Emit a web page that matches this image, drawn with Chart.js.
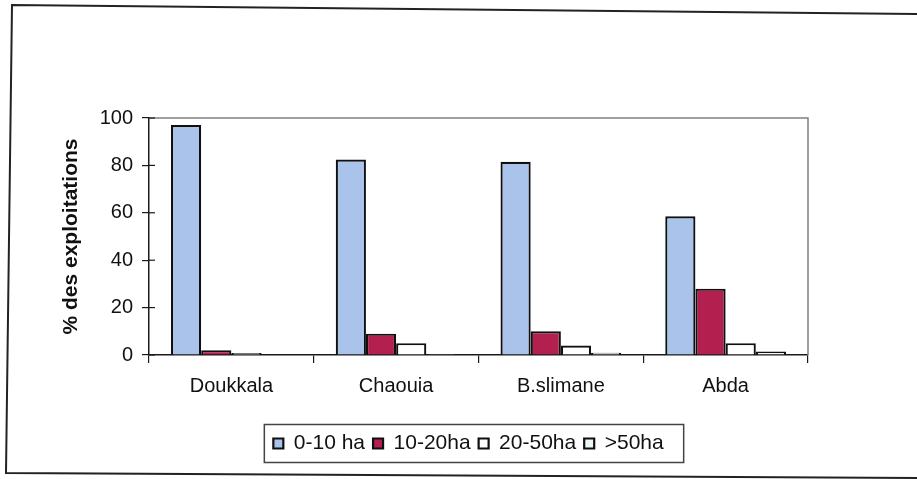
<!DOCTYPE html>
<html>
<head>
<meta charset="utf-8">
<script src="https://cdn.jsdelivr.net/npm/chart.js@4.4.1/dist/chart.umd.min.js"></script>
<style>
  html, body { margin: 0; padding: 0; background: #ffffff; }
  #wrap { width: 917px; height: 479px; }
</style>
</head>
<body>
<div id="wrap"><canvas id="c" width="917" height="479"></canvas></div>
<script>
const categories = ['Doukkala', 'Chaouia', 'B.slimane', 'Abda'];
const seriesNames = ['0-10 ha', '10-20ha', '20-50ha', '>50ha'];
const s0to10 = [97, 82.5, 81.5, 58.5];
const s10to20 = [2, 9, 10, 28];
const s20to50 = [0.8, 5, 4, 5];
const sOver50 = [0.2, 0.4, 1, 1.5];
const yTicks = [0, 20, 40, 60, 80, 100];
const yTitle = '% des exploitations';

const FONT = '"Liberation Sans", Arial, sans-serif';
const TXT = '#111111';

const frame = {
  id: 'frame',
  afterLayout(chart) {
    const lg = chart.legend;
    if (lg) { lg.left -= 10; lg.right -= 10; }
  },
  beforeDatasetsDraw(chart) {
    const {ctx, chartArea: a} = chart;
    ctx.save();
    ctx.strokeStyle = '#808080';
    ctx.lineWidth = 1.5;
    ctx.beginPath();
    ctx.moveTo(a.left, a.top);
    ctx.lineTo(a.right, a.top);
    ctx.lineTo(a.right, a.bottom);
    ctx.stroke();
    ctx.restore();
  },
  afterDraw(chart) {
    const {ctx, chartArea: a} = chart;
    const y = chart.scales.y;
    ctx.save();
    ctx.strokeStyle = '#1a1a1a';
    ctx.lineWidth = 1.2;
    y.ticks.forEach(t => {
      const py = y.getPixelForValue(t.value);
      ctx.beginPath();
      ctx.moveTo(a.left, py);
      ctx.lineTo(a.left + 6, py);
      ctx.stroke();
    });
    const hb = chart.legend.legendHitBoxes;
    if (hb && hb.length) {
      const first = hb[0], last = hb[hb.length - 1];
      const x0 = first.left - 9, x1 = last.left + last.width + 20;
      const y0 = first.top - 8.5, y1 = first.top + first.height + 8.5;
      ctx.strokeStyle = '#444';
      ctx.lineWidth = 1.5;
      ctx.strokeRect(x0, y0, x1 - x0, y1 - y0);
    }
    ctx.strokeStyle = '#222';
    ctx.lineWidth = 2;
    ctx.beginPath();
    ctx.moveTo(917, 14);
    ctx.lineTo(12, 5);
    ctx.lineTo(6, 473);
    ctx.lineTo(917, 478);
    ctx.stroke();
    ctx.restore();
  }
};

const mk = (label, data, bg) => ({
  label, data,
  backgroundColor: bg,
  borderColor: '#101010',
  borderWidth: 2.2,
  borderSkipped: 'start',
  categoryPercentage: 0.733,
  barPercentage: 1.0
});

new Chart(document.getElementById('c'), {
  type: 'bar',
  data: {
    labels: categories,
    datasets: [
      mk(seriesNames[0], s0to10, '#a9c3ea'),
      mk(seriesNames[1], s10to20, '#b3204f'),
      mk(seriesNames[2], s20to50, '#ffffff'),
      mk(seriesNames[3], sOver50, '#eef8f8')
    ]
  },
  options: {
    responsive: false,
    devicePixelRatio: 1,
    animation: false,
    layout: { padding: { left: 59, right: 109, top: 118, bottom: 15 } },
    plugins: {
      tooltip: { enabled: false },
      legend: {
        position: 'bottom',
        fullSize: false,
        labels: {
          font: { family: FONT, size: 21 },
          color: TXT,
          boxWidth: 10,
          boxHeight: 10,
          padding: 8
        }
      }
    },
    scales: {
      x: {
        afterFit(s) { s.height = 70; },
        grid: { display: true, drawOnChartArea: false, drawTicks: true, tickLength: 8, color: '#1a1a1a', lineWidth: 1.2, offset: true },
        border: { display: true, color: '#1a1a1a', width: 1.5 },
        ticks: { font: { family: FONT, size: 20 }, color: TXT, padding: 11, maxRotation: 0 }
      },
      y: {
        min: 0, max: 100,
        afterFit(s) { s.width = 90; },
        afterBuildTicks(s) { s.ticks = yTicks.map(v => ({ value: v })); },
        grid: { display: true, drawOnChartArea: false, drawTicks: true, tickLength: 7, color: '#1a1a1a', lineWidth: 1.2 },
        border: { display: true, color: '#1a1a1a', width: 1.5 },
        ticks: { font: { family: FONT, size: 20 }, color: TXT, padding: 9 },
        title: {
          display: true,
          text: yTitle,
          font: { family: FONT, size: 21, weight: 'bold' },
          color: TXT,
          padding: { top: 0, bottom: 0 }
        }
      }
    }
  },
  plugins: [frame]
});
</script>
</body>
</html>
